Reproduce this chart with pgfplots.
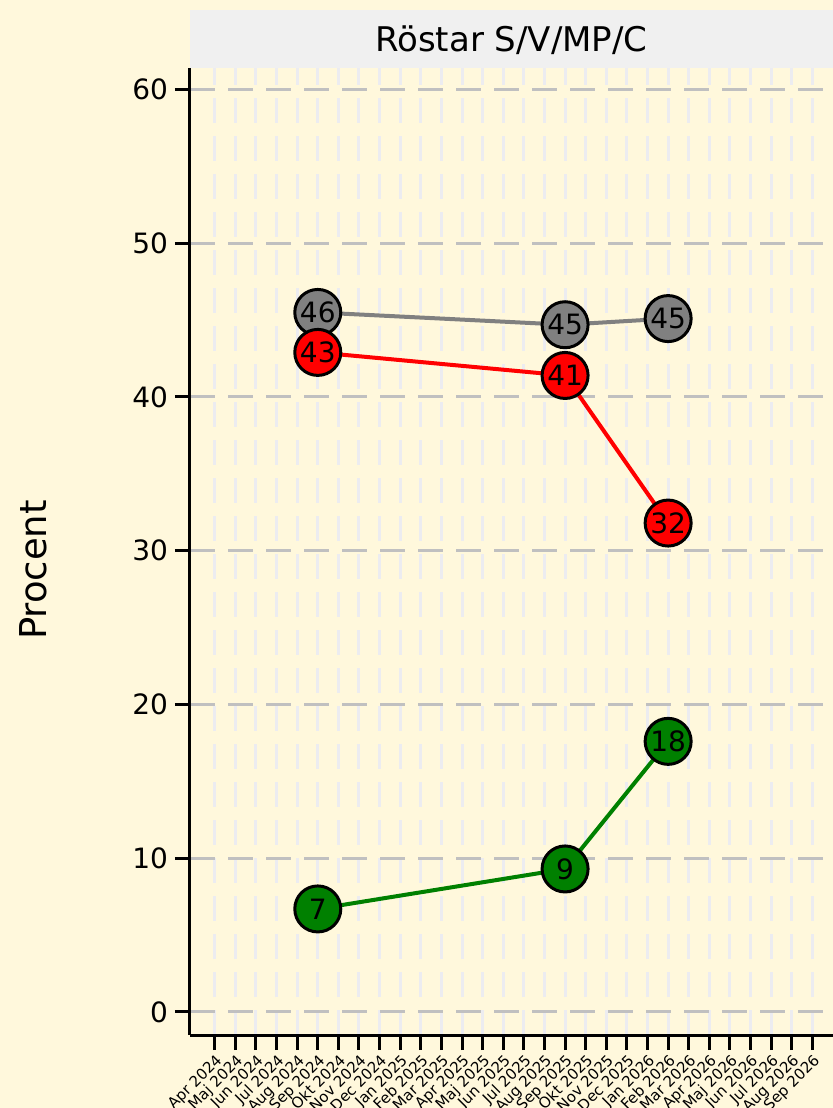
\documentclass[border=0pt]{standalone}
\usepackage{fontspec}
\setmainfont{DejaVu Sans}
\usepackage{pgfplots}
\pgfplotsset{compat=1.18}
\definecolor{bgc}{HTML}{FFF8DC}
\definecolor{strip}{HTML}{F0F0F0}
\definecolor{vgrid}{HTML}{ECECF0}
\definecolor{hgrid}{HTML}{C0C0C0}
\definecolor{sgray}{HTML}{808080}
\definecolor{sred}{HTML}{FF0000}
\definecolor{sgreen}{HTML}{008000}

\begin{document}
\begin{tikzpicture}
\useasboundingbox[fill=bgc] (-95pt,-36.5pt) rectangle (321.5pt,517.5pt);
% title strip
\fill[strip] (0pt,483.5pt) rectangle (321.5pt,512.5pt);
\node[font=\fontsize{17}{20}\selectfont] at (160.75pt,497.5pt) {Röstar S/V/MP/C};
\node[rotate=90, font=\fontsize{18.5}{22}\selectfont] at (-78.5pt,232.5pt) {Procent};

\begin{axis}[
    at={(0pt,0pt)}, anchor=south west,
    scale only axis, width=321.5pt, height=483.5pt,
    xmin=-1.2, xmax=30, ymin=-1.5, ymax=61.4,
    axis x line=bottom, axis y line=left,
    axis line style={-, line width=1.5pt, black},
    xtick={0,...,29},
    xticklabels={Apr 2024, Maj 2024, Jun 2024, Jul 2024, Aug 2024, Sep 2024,
      Okt 2024, Nov 2024, Dec 2024, Jan 2025, Feb 2025, Mar 2025, Apr 2025,
      Maj 2025, Jun 2025, Jul 2025, Aug 2025, Sep 2025, Okt 2025, Nov 2025,
      Dec 2025, Jan 2026, Feb 2026, Mar 2026, Apr 2026, Maj 2026, Jun 2026,
      Jul 2026, Aug 2026, Sep 2026},
    x tick label style={rotate=45, anchor=north east, inner sep=1pt,
      font=\fontsize{7.5}{8}\selectfont},
    ytick={0,10,...,60},
    y tick label style={font=\fontsize{14}{16}\selectfont},
    /pgf/number format/assume math mode=true,
    tick align=outside, major tick length=7.5pt,
    tick style={black, line width=1.5pt},
    xmajorgrids, ymajorgrids,
    x grid style={vgrid, line width=1.5pt, dash pattern=on 12.5pt off 6.5pt},
    y grid style={hgrid, line width=1.5pt, dash pattern=on 12.5pt off 6.5pt},
    nodes near coords, point meta=explicit symbolic,
    every node near coord/.style={anchor=center, black,
      font=\fontsize{14}{16}\selectfont},
]
\addplot[sgray, line width=2pt, mark=*, mark size=11.5pt,
  mark options={fill=sgray, draw=black, line width=1.5pt}]
  coordinates {(5,45.5) [46] (17,44.7) [45] (22,45.1) [45]};
\addplot[sred, line width=2pt, mark=*, mark size=11.5pt,
  mark options={fill=sred, draw=black, line width=1.5pt}]
  coordinates {(5,42.9) [43] (17,41.4) [41] (22,31.8) [32]};
\addplot[sgreen, line width=2pt, mark=*, mark size=11.5pt,
  mark options={fill=sgreen, draw=black, line width=1.5pt}]
  coordinates {(5,6.7) [7] (17,9.3) [9] (22,17.6) [18]};
\end{axis}
\end{tikzpicture}
\end{document}
